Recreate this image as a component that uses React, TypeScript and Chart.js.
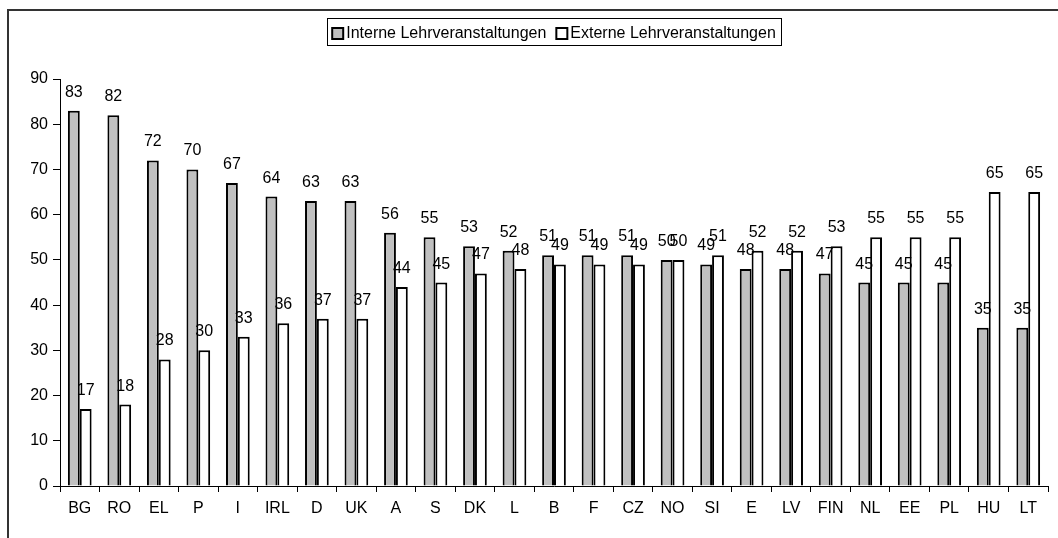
import React, { useEffect, useRef } from "react";
import { Chart, registerables } from "chart.js";

Chart.register(...registerables);

const categories = ["BG", "RO", "EL", "P", "I", "IRL", "D", "UK", "A", "S", "DK", "L", "B", "F", "CZ", "NO", "SI", "E", "LV", "FIN", "NL", "EE", "PL", "HU", "LT"];
const interne = [83, 82, 72, 70, 67, 64, 63, 63, 56, 55, 53, 52, 51, 51, 51, 50, 49, 48, 48, 47, 45, 45, 45, 35, 35];
const externe = [17, 18, 28, 30, 33, 36, 37, 37, 44, 45, 47, 48, 49, 49, 49, 50, 51, 52, 52, 53, 55, 55, 55, 65, 65];
const seriesNames = ["Interne Lehrveranstaltungen", "Externe Lehrveranstaltungen"];
const seriesColors = ["#c0c0c0", "#ffffff"];

const FAMILY = "'Liberation Sans', Arial, sans-serif";
const FONT = "16px " + FAMILY;

const decorPlugin = {
  id: "decor",
  afterDatasetsDraw(chart: any) {
    const ctx = chart.ctx;
    ctx.save();
    ctx.font = FONT;
    ctx.fillStyle = "#000";
    ctx.textAlign = "center";
    ctx.textBaseline = "alphabetic";
    chart.data.datasets.forEach((ds: any, di: number) => {
      const meta = chart.getDatasetMeta(di);
      meta.data.forEach((el: any, i: number) => {
        ctx.fillText(String(ds.data[i]), el.x, el.y - 14);
      });
    });
    ctx.restore();
  },
  afterDraw(chart: any) {
    const ctx = chart.ctx;
    ctx.save();
    // outer frame
    ctx.strokeStyle = "#333";
    ctx.lineWidth = 2;
    ctx.beginPath();
    ctx.moveTo(8, 600);
    ctx.lineTo(8, 10);
    ctx.lineTo(1100, 10);
    ctx.stroke();
    // legend
    ctx.font = FONT;
    const w1 = ctx.measureText(seriesNames[0]).width;
    const w2 = ctx.measureText(seriesNames[1]).width;
    const box = 11;
    const gap = 3;
    const between = 10;
    const total = box + gap + w1 + between + box + gap + w2;
    const cx = 554;
    const left = cx - total / 2;
    const pad = 5;
    ctx.strokeStyle = "#000";
    ctx.lineWidth = 1;
    ctx.strokeRect(Math.round(left - pad) + 0.5, 18.5, Math.round(total + 2 * pad), 27);
    let x = left;
    const items = [w1, w2];
    items.forEach((w, i) => {
      ctx.fillStyle = seriesColors[i];
      ctx.fillRect(x, 28, box, box);
      ctx.lineWidth = 2;
      ctx.strokeStyle = "#000";
      ctx.strokeRect(x, 28, box, box);
      ctx.fillStyle = "#000";
      ctx.textAlign = "left";
      ctx.textBaseline = "middle";
      ctx.fillText(seriesNames[i], x + box + gap, 33.5);
      x += box + gap + w + between;
    });
    ctx.restore();
  },
};

export default function App() {
  const ref = useRef<HTMLCanvasElement>(null);
  useEffect(() => {
    if (!ref.current) return;
    const chart = new Chart(ref.current, {
      type: "bar",
      data: {
        labels: categories,
        datasets: [
          {
            label: seriesNames[0],
            data: interne,
            backgroundColor: seriesColors[0],
            borderColor: "#000",
            borderWidth: 2,
            categoryPercentage: 0.6,
            barPercentage: 1,
          },
          {
            label: seriesNames[1],
            data: externe,
            backgroundColor: seriesColors[1],
            borderColor: "#000",
            borderWidth: 2,
            categoryPercentage: 0.6,
            barPercentage: 1,
          },
        ],
      },
      options: {
        responsive: false,
        animation: false,
        devicePixelRatio: 1,
        layout: { padding: { left: 20, right: 10, top: 79, bottom: 0 } },
        plugins: {
          legend: { display: false },
          tooltip: { enabled: false },
        },
        scales: {
          x: {
            border: { color: "#000", width: 1 },
            grid: { drawOnChartArea: false, color: "#000", tickColor: "#000", tickLength: 6, offset: true },
            ticks: { color: "#000", font: { family: FAMILY, size: 16 }, padding: 7, maxRotation: 0, autoSkip: false },
            afterFit(scale: any) {
              scale.height = 52;
            },
          },
          y: {
            min: 0,
            max: 90,
            border: { color: "#000", width: 1 },
            grid: { drawOnChartArea: false, color: "#000", tickColor: "#000", tickLength: 7, offset: false },
            ticks: { stepSize: 10, color: "#000", font: { family: FAMILY, size: 16 }, padding: 5 },
            afterFit(scale: any) {
              scale.width = 40;
            },
          },
        },
      },
      plugins: [decorPlugin],
    });
    return () => chart.destroy();
  }, []);
  return (
    <div style={{ position: "fixed", left: 0, top: 0, width: 1058, height: 538, background: "#fff" }}>
      <canvas ref={ref} width={1058} height={538} style={{ display: "block" }} />
    </div>
  );
}
